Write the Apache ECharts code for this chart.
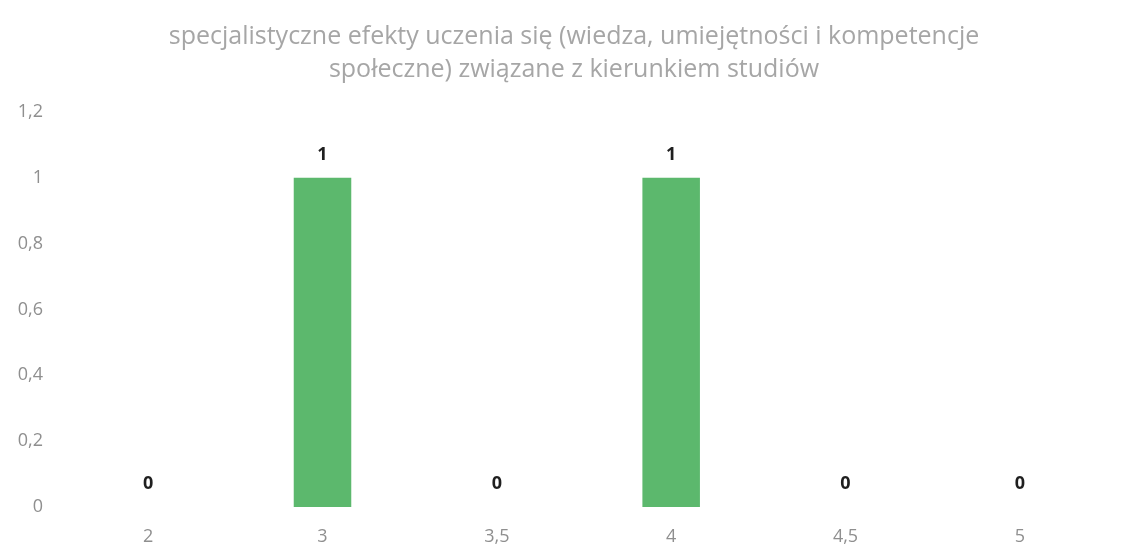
<!DOCTYPE html>
<html>
<head>
<meta charset="utf-8">
<script src="https://cdn.jsdelivr.net/npm/echarts@6/dist/echarts.min.js"></script>
<style>
html,body{margin:0;padding:0;background:#fff;}
#chart{width:1126px;height:552px;}
</style>
</head>
<body>
<div id="chart"></div>
<script>
var categories = ['2', '3', '3,5', '4', '4,5', '5'];
var values = [0, 1, 0, 1, 0, 0];
var yTicks = [0, 0.2, 0.4, 0.6, 0.8, 1, 1.2];
var titleText = 'specjalistyczne efekty uczenia się (wiedza, umiejętności i kompetencje\nspołeczne) związane z kierunkiem studiów';

var chart = echarts.init(document.getElementById('chart'));
chart.setOption({
  animation: false,
  backgroundColor: '#ffffff',
  title: {
    text: titleText,
    left: 569,
    textAlign: 'center',
    top: 15,
    textStyle: {
      fontFamily: 'Open Sans',
      fontSize: 25,
      fontWeight: 'normal',
      color: '#a6a6a6',
      lineHeight: 33
    }
  },
  grid: { left: 61, right: 19, top: 112, bottom: 45 },
  xAxis: {
    type: 'category',
    data: categories,
    axisLine: { show: false },
    axisTick: { show: false },
    axisLabel: {
      margin: 21,
      fontFamily: 'Open Sans',
      fontSize: 18,
      color: '#8f8f8f'
    }
  },
  yAxis: {
    type: 'value',
    min: 0,
    max: 1.2,
    interval: 0.2,
    splitLine: { show: false },
    axisLine: { show: false },
    axisTick: { show: false },
    axisLabel: {
      margin: 18,
      fontFamily: 'Open Sans',
      fontSize: 18,
      color: '#8f8f8f',
      formatter: function (v) {
        var s = yTicks.reduce(function (a, t) { return Math.abs(t - v) < 1e-9 ? t : a; }, v);
        return String(Math.round(s * 10) / 10).replace('.', ',');
      }
    }
  },
  series: [{
    type: 'bar',
    data: values,
    barWidth: '33%',
    itemStyle: { color: '#5cb86d' },
    label: {
      show: true,
      position: 'top',
      distance: 14,
      fontFamily: 'Open Sans',
      fontSize: 18,
      fontWeight: 'bold',
      color: '#1f1f1f'
    }
  }]
});
</script>
</body>
</html>
